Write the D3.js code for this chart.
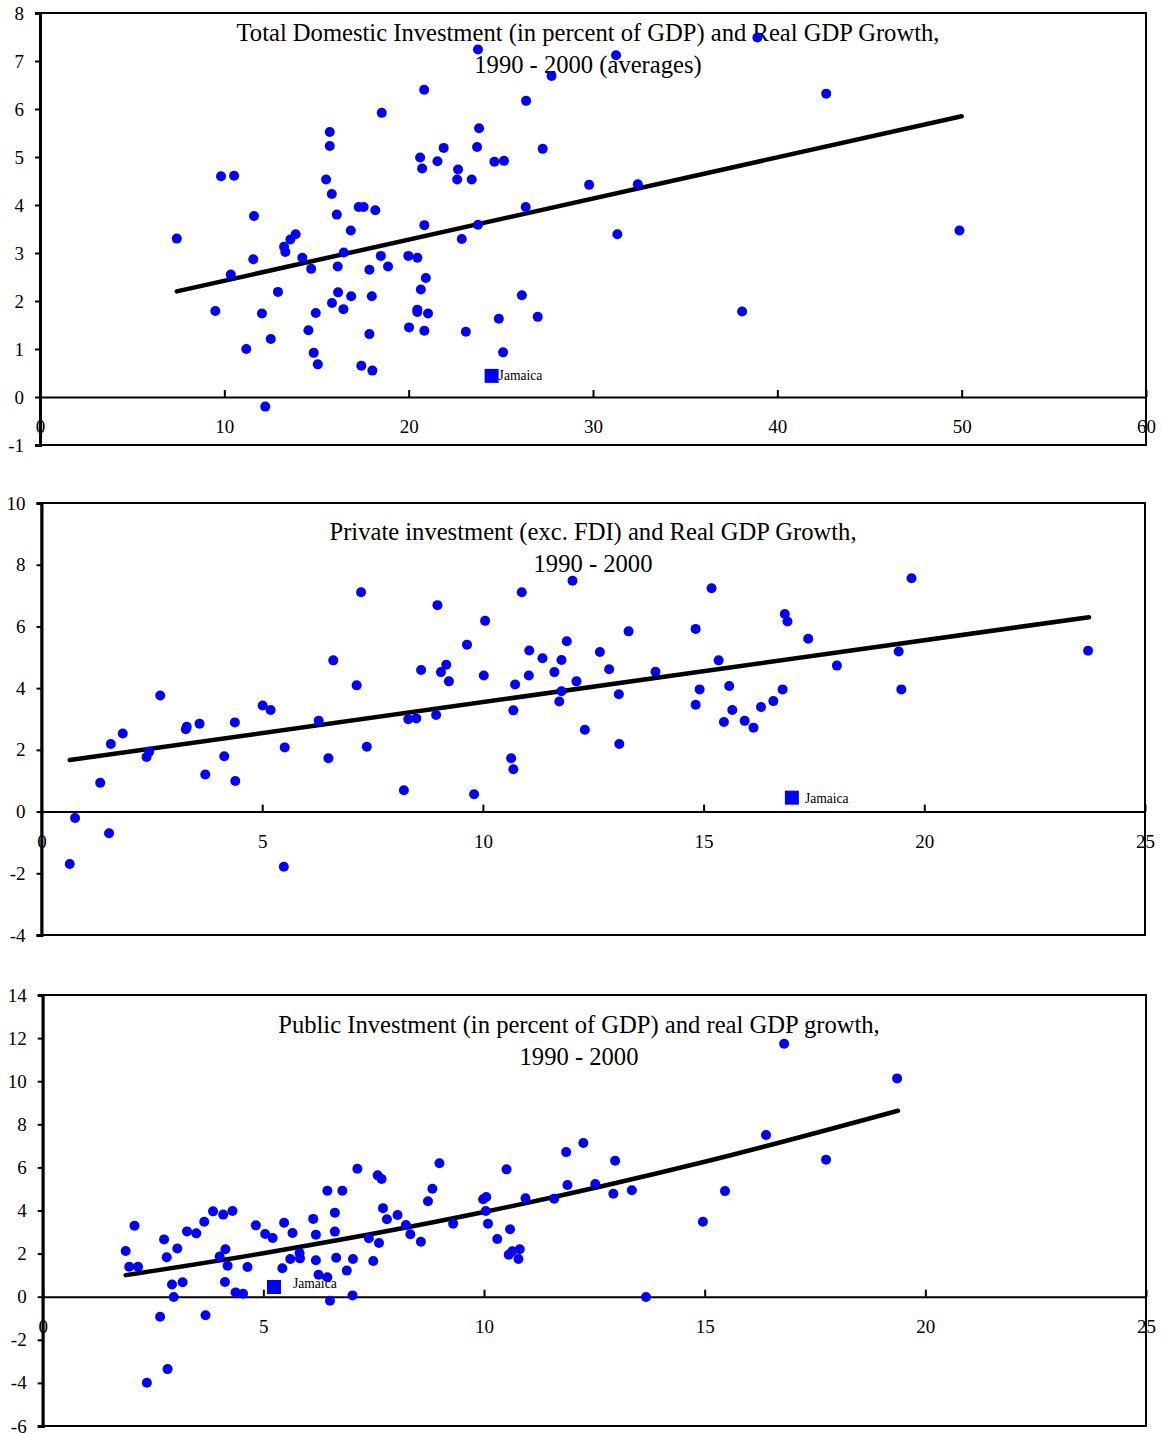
<!DOCTYPE html>
<html>
<head>
<meta charset="utf-8">
<script src="https://cdn.jsdelivr.net/npm/d3@7"></script>
<style>
  body { margin: 0; background: #fff; }
  text { font-family: "Liberation Serif", "Times New Roman", serif; }
</style>
</head>
<body>
<script>
// Investment vs real GDP growth, 1990-2000 (three scatter panels)

// ---- panel 1: total domestic investment
var totalX = [7.42, 9.82, 10.53, 9.51, 10.35, 11.19, 11.61, 11.57, 12.04, 12.22, 12.52, 12.91, 13.24, 13.31, 13.58, 13.87,
  14.23, 14.56, 14.71, 14.85, 14.96, 15.07, 15.52, 15.72, 15.72, 15.83, 15.84, 16.10, 16.15, 16.17, 16.46, 16.48,
  16.86, 16.88, 17.29, 17.56, 17.43, 17.87, 17.87, 18.00, 18.03, 18.19, 18.49, 18.54, 18.88, 19.98, 20.47, 20.62,
  20.73, 20.84, 20.85, 20.93, 20.66, 20.47, 20.47, 21.05, 20.02, 20.85, 21.56, 21.90, 22.68, 22.63, 23.42, 22.88,
  23.10, 23.71, 23.82, 23.76, 23.76, 24.65, 25.17, 24.89, 25.12, 26.14, 26.37, 26.35, 27.00, 27.27, 27.75, 29.79,
  31.25, 31.32, 32.43, 38.09, 38.92, 42.65, 49.88];
var totalY = [3.30, 4.60, 4.61, 1.79, 2.55, 1.00, 3.77, 2.87, 1.74, -0.20, 1.21, 2.19, 3.13, 3.02, 3.28, 3.39,
  2.90, 1.39, 2.67, 0.92, 1.75, 0.68, 4.53, 5.52, 5.23, 4.23, 1.96, 3.80, 2.72, 2.18, 1.83, 3.01,
  3.47, 2.10, 3.96, 3.96, 0.65, 2.65, 1.31, 2.10, 0.55, 3.89, 2.94, 5.92, 2.72, 2.94, 2.90, 4.99,
  4.76, 6.40, 3.58, 2.48, 2.24, 1.82, 1.77, 1.74, 1.45, 1.38, 4.91, 5.19, 4.74, 4.53, 4.53, 3.29,
  1.36, 5.21, 5.60, 7.24, 3.59, 4.90, 4.92, 1.63, 0.93, 2.12, 6.17, 3.96, 1.67, 5.17, 6.69, 4.42,
  7.12, 3.39, 4.43, 1.78, 7.49, 6.32, 3.47];
var totalJamaica = [24.5, 0.44];
var totalTrendX = [7.42, 50];
var totalTrendY = [2.2, 5.85];
var totalXTicks = [0, 10, 20, 30, 40, 50, 60];
var totalYTicks = [-1, 0, 1, 2, 3, 4, 5, 6, 7, 8];
var totalTitle = ["Total Domestic Investment (in percent of GDP) and Real GDP Growth,", "1990 - 2000 (averages)"];

// ---- panel 2: private investment
var privX = [0.64, 0.76, 1.33, 1.57, 1.53, 1.84, 2.38, 2.44, 2.69, 3.27, 3.29, 3.58, 3.71, 4.14, 4.38, 4.39,
  5.01, 5.19, 5.51, 5.49, 6.28, 6.50, 6.61, 7.14, 7.24, 7.37, 8.21, 8.31, 8.49, 8.60, 8.94, 8.97,
  9.05, 9.17, 9.23, 9.64, 9.80, 10.02, 10.05, 10.64, 10.69, 10.69, 10.73, 10.88, 11.04, 11.05, 11.35, 11.62,
  11.78, 11.78, 11.73, 11.90, 12.03, 12.12, 12.31, 12.65, 12.86, 13.08, 13.09, 13.30, 13.91, 14.82, 14.82, 14.91,
  15.18, 15.34, 15.46, 15.58, 15.65, 15.93, 16.13, 16.30, 16.58, 16.79, 16.84, 16.90, 17.37, 18.02, 19.42, 19.48,
  19.71, 23.71];
var privY = [-1.70, -0.21, 0.93, 2.19, -0.70, 2.53, 1.77, 1.94, 3.76, 2.67, 2.75, 2.85, 1.20, 1.79, 2.89, 0.99,
  3.44, 3.29, 2.08, -1.79, 2.94, 1.73, 4.90, 4.09, 7.11, 2.10, 0.69, 2.99, 3.02, 4.59, 3.13, 6.69,
  4.52, 4.76, 4.22, 5.41, 0.56, 4.41, 6.18, 1.73, 1.37, 3.28, 4.12, 7.11, 4.41, 5.22, 4.97, 4.52,
  4.91, 3.90, 3.57, 5.52, 7.48, 4.22, 2.65, 5.17, 4.61, 3.80, 2.19, 5.84, 4.53, 5.92, 3.46, 3.96,
  7.24, 4.90, 2.90, 4.07, 3.29, 2.94, 2.72, 3.39, 3.58, 3.96, 6.40, 6.16, 5.60, 4.73, 5.19, 3.96,
  7.56, 5.21];
var privJamaica = [17.0, 0.45];
var privTrendX = [0.64, 23.73];
var privTrendY = [1.67, 6.30];
var privXTicks = [0, 5, 10, 15, 20, 25];
var privYTicks = [-4, -2, 0, 2, 4, 6, 8, 10];
var privTitle = ["Private investment (exc. FDI) and Real GDP Growth,", "1990 - 2000"];

// ---- panel 3: public investment
var pubX = [1.88, 1.96, 2.08, 2.16, 2.36, 2.66, 2.75, 2.81, 2.83, 2.93, 2.97, 3.05, 3.17, 3.27, 3.48, 3.66,
  3.69, 3.86, 4.01, 4.09, 4.14, 4.19, 4.13, 4.30, 4.37, 4.54, 4.64, 4.83, 5.04, 5.21, 5.43, 5.47,
  5.61, 5.66, 5.82, 5.83, 6.13, 6.19, 6.19, 6.25, 6.45, 6.45, 6.51, 6.62, 6.62, 6.65, 6.79, 6.89,
  7.02, 7.03, 7.13, 7.39, 7.49, 7.59, 7.68, 7.62, 7.71, 7.80, 8.04, 8.23, 8.33, 8.57, 8.73, 8.83,
  8.99, 9.30, 9.98, 10.05, 10.04, 10.09, 10.30, 10.51, 10.59, 10.56, 10.64, 10.81, 10.78, 10.94, 11.59, 11.86,
  11.89, 12.25, 12.52, 12.93, 12.97, 13.35, 13.67, 14.96, 15.46, 16.39, 16.80, 17.75, 19.36];
var pubY = [2.12, 1.39, 3.29, 1.39, -3.99, -0.93, 2.66, 1.83, -3.36, 0.57, -0.01, 2.24, 0.67, 3.03, 2.94, 3.48,
  -0.86, 3.96, 1.86, 3.81, 2.20, 1.44, 0.68, 3.98, 0.20, 0.14, 1.38, 3.31, 2.91, 2.72, 1.32, 3.43,
  1.75, 2.96, 2.03, 1.78, 3.61, 2.88, 1.69, 1.02, 4.92, 0.90, -0.19, 3.90, 3.02, 1.81, 4.92, 1.21,
  0.06, 1.75, 5.94, 2.71, 1.66, 5.63, 5.46, 2.49, 4.11, 3.59, 3.79, 3.33, 2.90, 2.55, 4.43, 5.01,
  6.19, 3.39, 4.52, 4.63, 3.98, 3.39, 2.68, 5.91, 3.13, 1.95, 2.11, 2.20, 1.75, 4.57, 4.55, 6.71,
  5.18, 7.13, 5.23, 4.78, 6.31, 4.94, -0.01, 3.48, 4.90, 7.50, 11.74, 6.36, 10.13];
var pubJamaica = [5.24, 0.45];
var pubTrendX = [1.88, 5, 10, 15, 19.38];
var pubTrendY = [1.0, 2.02, 3.93, 6.26, 8.63];
var pubXTicks = [0, 5, 10, 15, 20, 25];
var pubYTicks = [-6, -4, -2, 0, 2, 4, 6, 8, 10, 12, 14];
var pubTitle = ["Public Investment (in percent of GDP) and real GDP growth,", "1990 - 2000"];

var svgWidth = 1162;
var svgHeight = 1434;

var svg = d3.select("body")
  .append("svg")
  .attr("width", svgWidth)
  .attr("height", svgHeight);

var panels = [
  { xs: totalX, ys: totalY, jam: totalJamaica, tx: totalTrendX, ty: totalTrendY,
    xTicks: totalXTicks, yTicks: totalYTicks, title: totalTitle,
    left: 40, right: 1146, top: 13, bottom: 445, titleX: 588, titleY: 41,
    jamDx: 7, jamDy: 4 },
  { xs: privX, ys: privY, jam: privJamaica, tx: privTrendX, ty: privTrendY,
    xTicks: privXTicks, yTicks: privYTicks, title: privTitle,
    left: 41.5, right: 1145, top: 503, bottom: 935, titleX: 593, titleY: 540,
    jamDx: 13, jamDy: 5 },
  { xs: pubX, ys: pubY, jam: pubJamaica, tx: pubTrendX, ty: pubTrendY,
    xTicks: pubXTicks, yTicks: pubYTicks, title: pubTitle,
    left: 42.7, right: 1146, top: 995, bottom: 1426, titleX: 579, titleY: 1033,
    jamDx: 19, jamDy: 1 }
];

panels.forEach(drawPanel);

function drawPanel(p) {
  var xScale = d3.scaleLinear()
    .domain([p.xTicks[0], p.xTicks[p.xTicks.length - 1]])
    .range([p.left, p.right]);
  var yScale = d3.scaleLinear()
    .domain([p.yTicks[0], p.yTicks[p.yTicks.length - 1]])
    .range([p.bottom, p.top]);

  var g = svg.append("g");

  // frame
  g.append("rect")
    .attr("x", p.left)
    .attr("y", p.top)
    .attr("width", p.right - p.left)
    .attr("height", p.bottom - p.top)
    .attr("fill", "none")
    .attr("stroke", "#000")
    .attr("stroke-width", 2);

  // y axis on the left edge (plain hyphen for negatives, like the original)
  var yAxis = g.append("g")
    .attr("transform", `translate(${p.left},0)`)
    .call(d3.axisLeft(yScale).tickValues(p.yTicks).tickSize(5).tickPadding(11).tickFormat(d => String(d)));
  yAxis.select(".domain").attr("stroke-width", 3);

  // x axis along y = 0, ticks pointing up
  var xAxis = g.append("g")
    .attr("transform", `translate(0,${yScale(0)})`)
    .call(d3.axisBottom(xScale).tickValues(p.xTicks).tickSizeInner(-7).tickSizeOuter(0).tickPadding(23).tickFormat(d => String(d)));
  xAxis.select(".domain").attr("stroke-width", 2);

  g.selectAll(".tick line").attr("stroke-width", 2);
  g.selectAll(".tick text")
    .attr("fill", "#000")
    .style("font-family", '"Liberation Serif", "Times New Roman", serif')
    .style("font-size", "19px");

  // title
  g.selectAll(".title")
    .data(p.title)
    .enter()
    .append("text")
    .attr("x", p.titleX)
    .attr("y", (d, i) => p.titleY + i * 32)
    .attr("text-anchor", "middle")
    .style("font-size", "24.6px")
    .text(d => d);

  // fitted line
  var line = d3.line()
    .x(d => xScale(d[0]))
    .y(d => yScale(d[1]))
    .curve(d3.curveMonotoneX);
  g.append("path")
    .datum(p.tx.map((v, i) => [v, p.ty[i]]))
    .attr("d", line)
    .attr("fill", "none")
    .attr("stroke", "#000")
    .attr("stroke-width", 4.5)
    .attr("stroke-linecap", "round");

  // Jamaica label, square on top
  g.append("text")
    .attr("x", xScale(p.jam[0]) + p.jamDx)
    .attr("y", yScale(p.jam[1]) + p.jamDy)
    .style("font-size", "13.6px")
    .text("Jamaica");

  // countries
  g.selectAll("circle")
    .data(p.xs.map((v, i) => [v, p.ys[i]]))
    .enter()
    .append("circle")
    .attr("cx", d => xScale(d[0]))
    .attr("cy", d => yScale(d[1]))
    .attr("r", 5)
    .attr("fill", "#0000ff");

  g.append("rect")
    .attr("x", xScale(p.jam[0]) - 7)
    .attr("y", yScale(p.jam[1]) - 7)
    .attr("width", 14)
    .attr("height", 14)
    .attr("fill", "#0000ff");
}
</script>
</body>
</html>
